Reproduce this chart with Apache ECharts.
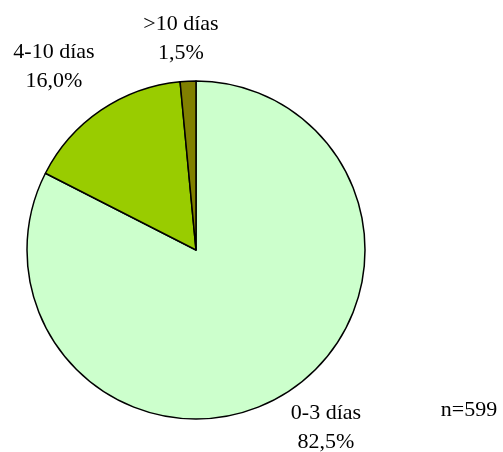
<!DOCTYPE html>
<html>
<head>
<meta charset="utf-8">
<script src="https://cdn.jsdelivr.net/npm/echarts@6/dist/echarts.min.js"></script>
<style>
  html, body { margin: 0; padding: 0; background: #fff; }
  #chart { width: 503px; height: 452px; }
</style>
</head>
<body>
<div id="chart"></div>
<script>
const categories = ['0-3 días', '4-10 días', '>10 días']
const values = [82.5, 16.0, 1.5]
const colors = ['#CCFFCC', '#99CC00', '#808000']
const sampleNote = 'n=599'

// label anchor points (centre of each label block)
const labelPos = [[326, 428], [54, 67], [181, 39]]

const chart = echarts.init(document.getElementById('chart'))
chart.setOption({
  animation: false,
  textStyle: { fontFamily: 'Liberation Serif' },
  graphic: [{
    type: 'text',
    x: 469,
    y: 410,
    style: {
      text: sampleNote, fontSize: 22, fontFamily: 'Liberation Serif', fill: '#000',
      align: 'center', verticalAlign: 'middle'
    }
  }],
  series: [{
    type: 'pie',
    center: [196, 250],
    radius: [0, 169],
    startAngle: 90,
    clockwise: true,
    data: categories.map((c, i) => ({
      name: c,
      value: values[i],
      itemStyle: { color: colors[i] }
    })),
    itemStyle: { borderColor: '#000', borderWidth: 1.5 },
    label: {
      show: true,
      position: 'outside',
      color: '#000',
      fontSize: 22,
      lineHeight: 29,
      align: 'center',
      overflow: 'none',
      fontFamily: 'Liberation Serif',
      formatter: p => p.name + '\n' + p.value.toFixed(1).replace('.', ',') + '%'
    },
    labelLine: { show: false },
    labelLayout: p => ({
      x: labelPos[p.dataIndex][0],
      y: labelPos[p.dataIndex][1],
      align: 'center',
      verticalAlign: 'middle'
    })
  }]
})
</script>
</body>
</html>
